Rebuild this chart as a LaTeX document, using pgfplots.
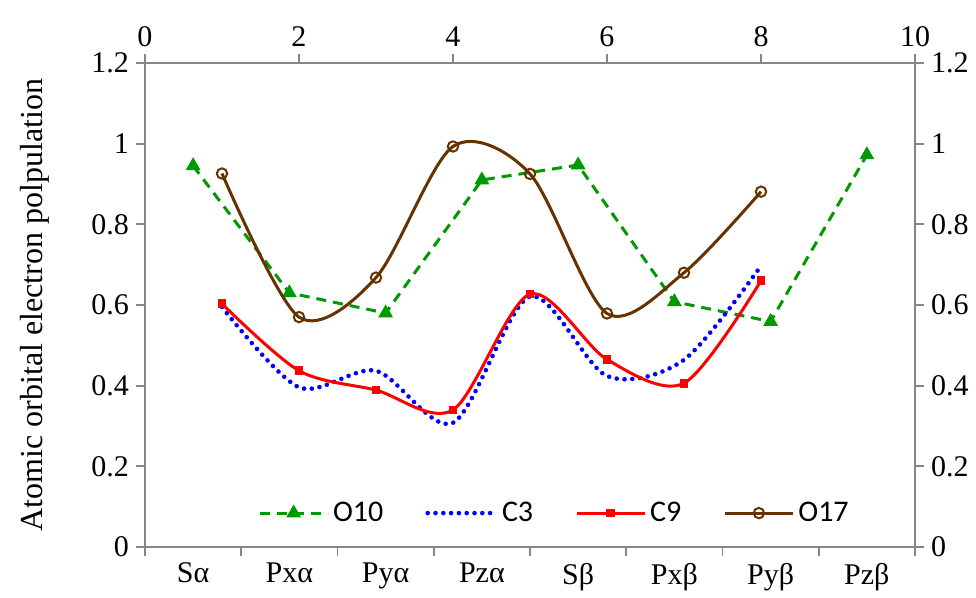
\documentclass[border=0pt]{standalone}
\usepackage{fontspec}
\setmainfont{Liberation Serif}
\newfontfamily\calibri{Carlito}
\usepackage{pgfplots}
\pgfplotsset{compat=1.18}

\definecolor{axgray}{RGB}{134,134,134}
\definecolor{ogreen}{RGB}{0,153,0}
\definecolor{cblue}{RGB}{0,0,255}
\definecolor{cred}{RGB}{255,0,0}
\definecolor{obrown}{RGB}{102,51,0}

\pgfplotsset{
  chartbase/.style={
    width=385pt, height=242pt, scale only axis,
    ymin=0, ymax=1.2, ytick={0,0.2,0.4,0.6,0.8,1,1.2},
    axis line style={draw=axgray, line width=0.9pt, -},
    tick style={draw=axgray, line width=0.9pt},
    tick align=outside, major tick length=4.5pt,
    ticklabel style={font=\fontsize{15}{17}\selectfont, text=black},
    /pgf/number format/assume math mode=true,
    legend image code/.code={\draw[mark repeat=2,mark phase=2,#1] plot coordinates {(0pt,0pt) (17pt,0pt) (34pt,0pt)};},
    clip=false,
  },
  s10/.style={ogreen, line width=1.5pt, dash pattern=on 5pt off 3.5pt,
    mark=triangle*, mark size=2.8pt, mark options={solid, fill=ogreen}},
  s3/.style={cblue, line width=2.3pt, line cap=round, dash pattern=on 0pt off 3.9pt, smooth, no marks},
  s9/.style={cred, line width=1.5pt, smooth, mark=square*, mark size=1.4pt, mark options={solid, fill=cred}},
  s17/.style={obrown, line width=1.5pt, smooth, mark=o, mark size=2.6pt, mark options={solid, line width=1pt}},
}

\begin{document}
\begin{tikzpicture}
% primary axis: categories at the bottom, values at the left
\begin{axis}[chartbase,
    xmin=0, xmax=8, xtick={0,...,8},
    xticklabels={Sα,Pxα,Pyα,Pzα,Sβ,Pxβ,Pyβ,Pzβ},
    x tick label as interval,
    axis x line*=bottom, axis y line*=left,
    xtick pos=left, ytick pos=left,
    ylabel={Atomic orbital electron polpulation},
    ylabel style={font=\fontsize{16}{18}\selectfont, at={(axis description cs:-0.143,0.5)}, anchor=center, rotate=0},
]
\coordinate (O) at (rel axis cs:0,0);
\addplot[s10] coordinates {
  (0.5,0.945) (1.5,0.630) (2.5,0.580) (3.5,0.910)
  (4.5,0.947) (5.5,0.608) (6.5,0.559) (7.5,0.972)
};
\end{axis}
% secondary axis: 0..10 at the top, values at the right
\begin{axis}[chartbase,
    xmin=0, xmax=10, xtick={0,2,...,10},
    axis x line*=top, axis y line*=right,
    xtick pos=right, xticklabel pos=right,
    ytick pos=right, yticklabel pos=right,
    legend columns=4,
    legend style={at={(0.533,0.07)}, anchor=center, draw=none, fill=none,
      font=\calibri\fontsize{15}{17}\selectfont,
      /tikz/every even column/.append style={column sep=19pt}},
]
\addlegendimage{s10}
\addlegendentry{O10}
\addplot[s3] coordinates {
  (1,0.595) (2,0.396) (3,0.437) (4,0.308)
  (5,0.621) (6,0.424) (7,0.464) (8,0.697)
};
\addlegendentry{C3}
\addplot[s9] coordinates {
  (1,0.603) (2,0.437) (3,0.389) (4,0.340)
  (5,0.627) (6,0.465) (7,0.406) (8,0.660)
};
\addlegendentry{C9}
\addplot[s17] coordinates {
  (1,0.926) (2,0.570) (3,0.668) (4,0.993)
  (5,0.925) (6,0.579) (7,0.680) (8,0.881)
};
\addlegendentry{O17}
\end{axis}
\path (O) ++(-72.5pt,-25.5pt) rectangle ++(488pt,299pt);
\end{tikzpicture}
\end{document}
